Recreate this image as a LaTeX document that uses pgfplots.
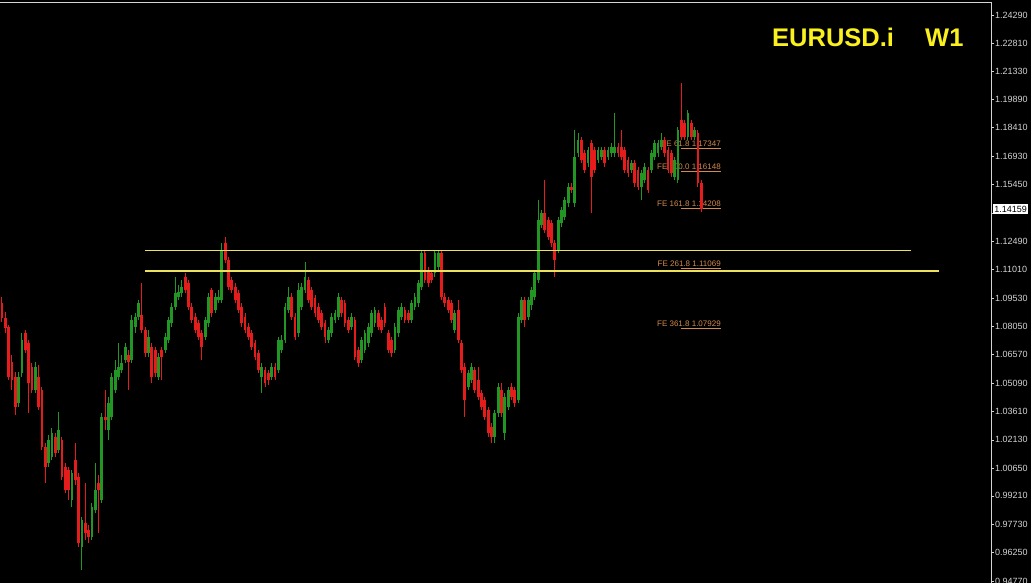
\documentclass[border=0pt]{standalone}
\usepackage{fontspec}
\setmainfont{Liberation Sans}
\usepackage{pgfplots}
\usepackage{pgfplotstable}
\pgfplotsset{compat=1.18}

\definecolor{bull}{RGB}{34,150,34}
\definecolor{bear}{RGB}{228,28,28}
\definecolor{lvl}{RGB}{236,226,90}
\definecolor{fe}{RGB}{210,138,78}
\definecolor{scalecol}{RGB}{212,212,212}
\definecolor{titlecol}{RGB}{250,240,30}

% weekly EURUSD bars: index, open, high, low, close
\pgfplotstableread{
i o h l c
1 1.0926 1.0958 1.0828 1.0848
2 1.0848 1.0880 1.0770 1.0796
3 1.0801 1.0812 1.0525 1.0540
4 1.0619 1.0656 1.0473 1.0525
5 1.0540 1.0567 1.0343 1.0384
6 1.0405 1.0567 1.0384 1.0540
7 1.0561 1.0770 1.0540 1.0734
8 1.0770 1.0786 1.0666 1.0682
9 1.0718 1.0734 1.0353 1.0509
10 1.0592 1.0613 1.0457 1.0473
11 1.0473 1.0619 1.0457 1.0592
12 1.0540 1.0603 1.0369 1.0384
13 1.0473 1.0488 1.0160 1.0175
14 1.0175 1.0196 0.9988 1.0071
15 1.0092 1.0238 1.0071 1.0212
16 1.0123 1.0274 1.0108 1.0248
17 1.0227 1.0248 1.0123 1.0144
18 1.0160 1.0359 1.0144 1.0264
19 1.0212 1.0227 1.0004 1.0019
20 1.0071 1.0092 0.9935 0.9951
21 1.0056 1.0071 0.9899 0.9951
22 0.9899 1.0056 0.9862 1.0040
23 1.0108 1.0196 0.9978 1.0004
24 1.0019 1.0040 0.9654 0.9675
25 0.9654 0.9810 0.9534 0.9795
26 0.9779 0.9988 0.9691 0.9727
27 0.9743 0.9769 0.9675 0.9706
28 0.9706 0.9883 0.9691 0.9862
29 0.9847 1.0092 0.9831 0.9951
30 0.9988 1.0030 0.9727 0.9951
31 0.9899 1.0353 0.9883 1.0332
32 1.0332 1.0473 1.0264 1.0316
33 1.0264 1.0436 1.0212 1.0405
34 1.0332 1.0561 1.0316 1.0540
35 1.0473 1.0629 1.0457 1.0577
36 1.0540 1.0718 1.0525 1.0592
37 1.0577 1.0656 1.0561 1.0613
38 1.0629 1.0718 1.0613 1.0697
39 1.0656 1.0682 1.0473 1.0619
40 1.0629 1.0864 1.0613 1.0838
41 1.0801 1.0874 1.0770 1.0853
42 1.0853 1.0942 1.0838 1.0926
43 1.0864 1.1031 1.0770 1.0786
44 1.0786 1.0801 1.0645 1.0666
45 1.0666 1.0786 1.0645 1.0749
46 1.0697 1.0718 1.0509 1.0540
47 1.0682 1.0697 1.0540 1.0561
48 1.0540 1.0666 1.0525 1.0645
49 1.0682 1.0697 1.0525 1.0645
50 1.0682 1.0770 1.0666 1.0749
51 1.0734 1.0853 1.0718 1.0838
52 1.0822 1.0926 1.0801 1.0905
53 1.0905 1.1062 1.0890 1.0979
54 1.0958 1.1021 1.0942 1.0985
55 1.0979 1.1047 1.0958 1.1010
56 1.1062 1.1083 1.0979 1.0995
57 1.1031 1.1047 1.0890 1.0905
58 1.0905 1.0926 1.0822 1.0838
59 1.0853 1.0874 1.0770 1.0786
60 1.0822 1.0838 1.0734 1.0749
61 1.0770 1.0786 1.0629 1.0697
62 1.0749 1.0853 1.0734 1.0838
63 1.0822 1.0979 1.0801 1.0958
64 1.0995 1.1005 1.0853 1.0874
65 1.0890 1.0979 1.0874 1.0958
66 1.0942 1.0995 1.0926 1.0958
67 1.0942 1.1239 1.0926 1.1203
68 1.1239 1.1270 1.1135 1.1151
69 1.1151 1.1166 1.0995 1.1010
70 1.1047 1.1062 1.0979 1.0995
71 1.1010 1.1031 1.0926 1.0942
72 1.0979 1.0995 1.0874 1.0890
73 1.0905 1.0926 1.0801 1.0822
74 1.0853 1.0874 1.0770 1.0786
75 1.0801 1.0822 1.0734 1.0749
76 1.0770 1.0786 1.0682 1.0697
77 1.0718 1.0734 1.0629 1.0645
78 1.0666 1.0682 1.0561 1.0577
79 1.0540 1.0613 1.0457 1.0592
80 1.0577 1.0592 1.0488 1.0509
81 1.0561 1.0577 1.0499 1.0525
82 1.0540 1.0613 1.0525 1.0592
83 1.0592 1.0613 1.0525 1.0540
84 1.0577 1.0749 1.0561 1.0734
85 1.0682 1.0760 1.0666 1.0734
86 1.0734 1.0926 1.0718 1.0905
87 1.0890 1.1010 1.0874 1.0958
88 1.0958 1.0979 1.0838 1.0853
89 1.0853 1.0874 1.0734 1.0749
90 1.0770 1.1031 1.0749 1.0995
91 1.0905 1.1031 1.0890 1.1010
92 1.0995 1.1141 1.0979 1.1062
93 1.1047 1.1062 1.0926 1.0942
94 1.0995 1.1010 1.0890 1.0905
95 1.0953 1.0969 1.0853 1.0874
96 1.0905 1.0926 1.0822 1.0838
97 1.0874 1.0890 1.0786 1.0801
98 1.0822 1.0838 1.0718 1.0749
99 1.0734 1.0801 1.0718 1.0786
100 1.0770 1.0874 1.0749 1.0853
101 1.0838 1.0890 1.0822 1.0874
102 1.0853 1.0979 1.0838 1.0958
103 1.0942 1.0958 1.0853 1.0874
104 1.0926 1.0942 1.0801 1.0822
105 1.0838 1.0853 1.0770 1.0786
106 1.0801 1.0874 1.0786 1.0853
107 1.0838 1.0853 1.0629 1.0645
108 1.0682 1.0697 1.0592 1.0613
109 1.0629 1.0749 1.0613 1.0734
110 1.0682 1.0786 1.0666 1.0770
111 1.0718 1.0822 1.0697 1.0801
112 1.0770 1.0890 1.0749 1.0874
113 1.0822 1.0905 1.0801 1.0890
114 1.0874 1.0890 1.0786 1.0801
115 1.0838 1.0853 1.0770 1.0786
116 1.0905 1.0926 1.0801 1.0822
117 1.0770 1.0786 1.0666 1.0682
118 1.0734 1.0749 1.0645 1.0666
119 1.0682 1.0822 1.0666 1.0801
120 1.0770 1.0905 1.0749 1.0890
121 1.0853 1.0926 1.0838 1.0905
122 1.0890 1.0905 1.0822 1.0838
123 1.0874 1.0890 1.0822 1.0838
124 1.0838 1.0942 1.0822 1.0926
125 1.0905 1.0979 1.0890 1.0958
126 1.0926 1.1047 1.0905 1.1031
127 1.1010 1.1203 1.0995 1.1187
128 1.1187 1.1203 1.1031 1.1047
129 1.1099 1.1114 1.1010 1.1031
130 1.1083 1.1099 1.1031 1.1047
131 1.1083 1.1203 1.1062 1.1187
132 1.1114 1.1203 1.1099 1.1187
133 1.1187 1.1203 1.0942 1.0958
134 1.0958 1.0979 1.0905 1.0926
135 1.0942 1.0958 1.0874 1.0890
136 1.0926 1.0942 1.0822 1.0838
137 1.0786 1.0890 1.0770 1.0874
138 1.0890 1.0942 1.0718 1.0734
139 1.0718 1.0734 1.0561 1.0577
140 1.0592 1.0613 1.0332 1.0421
141 1.0488 1.0577 1.0473 1.0561
142 1.0525 1.0613 1.0509 1.0592
143 1.0577 1.0592 1.0457 1.0473
144 1.0525 1.0592 1.0421 1.0436
145 1.0457 1.0473 1.0369 1.0384
146 1.0421 1.0436 1.0316 1.0332
147 1.0369 1.0384 1.0227 1.0248
148 1.0279 1.0300 1.0196 1.0227
149 1.0227 1.0369 1.0196 1.0353
150 1.0353 1.0509 1.0332 1.0488
151 1.0473 1.0509 1.0332 1.0353
152 1.0248 1.0457 1.0212 1.0436
153 1.0384 1.0488 1.0369 1.0473
154 1.0488 1.0509 1.0421 1.0436
155 1.0473 1.0488 1.0384 1.0405
156 1.0421 1.0874 1.0405 1.0853
157 1.0838 1.0958 1.0822 1.0942
158 1.0942 1.0958 1.0801 1.0838
159 1.0853 1.0958 1.0838 1.0942
160 1.0916 1.1010 1.0890 1.0995
161 1.0958 1.1099 1.0942 1.1083
162 1.1047 1.1464 1.1031 1.1360
163 1.1334 1.1412 1.1318 1.1396
164 1.1396 1.1568 1.1291 1.1307
165 1.1360 1.1375 1.1255 1.1270
166 1.1344 1.1360 1.1218 1.1239
167 1.1239 1.1255 1.1062 1.1151
168 1.1203 1.1375 1.1187 1.1360
169 1.1344 1.1427 1.1323 1.1412
170 1.1375 1.1479 1.1360 1.1464
171 1.1448 1.1552 1.1427 1.1531
172 1.1531 1.1552 1.1500 1.1516
173 1.1448 1.1829 1.1427 1.1688
174 1.1709 1.1813 1.1688 1.1777
175 1.1777 1.1792 1.1657 1.1673
176 1.1709 1.1725 1.1604 1.1620
177 1.1657 1.1740 1.1636 1.1725
178 1.1761 1.1777 1.1396 1.1583
179 1.1725 1.1740 1.1604 1.1620
180 1.1673 1.1740 1.1657 1.1725
181 1.1688 1.1740 1.1673 1.1725
182 1.1725 1.1740 1.1636 1.1657
183 1.1688 1.1740 1.1673 1.1725
184 1.1709 1.1761 1.1688 1.1740
185 1.1709 1.1917 1.1688 1.1740
186 1.1740 1.1761 1.1688 1.1709
187 1.1740 1.1829 1.1673 1.1688
188 1.1725 1.1740 1.1604 1.1620
189 1.1673 1.1688 1.1583 1.1604
190 1.1620 1.1673 1.1604 1.1657
191 1.1657 1.1673 1.1531 1.1552
192 1.1620 1.1636 1.1516 1.1531
193 1.1531 1.1620 1.1464 1.1604
194 1.1568 1.1657 1.1552 1.1636
195 1.1620 1.1636 1.1500 1.1516
196 1.1620 1.1725 1.1604 1.1709
197 1.1688 1.1777 1.1673 1.1761
198 1.1709 1.1777 1.1688 1.1761
199 1.1740 1.1813 1.1725 1.1777
200 1.1777 1.1792 1.1688 1.1709
201 1.1725 1.1740 1.1604 1.1620
202 1.1709 1.1725 1.1583 1.1604
203 1.1583 1.1688 1.1568 1.1673
204 1.1568 1.1844 1.1552 1.1829
205 1.1881 1.2074 1.1777 1.1792
206 1.1865 1.1881 1.1777 1.1792
207 1.1792 1.1933 1.1777 1.1917
208 1.1865 1.1881 1.1777 1.1792
209 1.1792 1.1844 1.1777 1.1829
210 1.1813 1.1829 1.1531 1.1552
211 1.1552 1.1568 1.1402 1.1416
}\candles

\pgfplotsset{
  candle part/.style n args={2}{
    only marks, mark=*, mark size=0pt,
    mark options={draw=none, fill=none}, forget plot,
    error bars/.cd, y dir=plus, y explicit, error mark=none,
    error bar style={#1, line width=#2}},
}

\begin{document}
\begin{tikzpicture}
\fill[black] (0,0) rectangle (1031pt,583pt);
\begin{axis}[
  at={(0pt,0pt)}, anchor=south west,
  width=991pt, height=581pt, scale only axis,
  xmin=0.4, xmax=298, ymin=0.94663, ymax=1.24968,
  axis x line*=top, axis y line*=right,
  axis line style={draw=scalecol, line width=0.8pt, -},
  xtick=\empty,
  ytick={0.94770,0.96250,0.97730,0.99210,1.00650,1.02130,1.03610,1.05090,1.06570,1.08050,1.09530,1.11010,1.12490,1.13970,1.15450,1.16930,1.18410,1.19890,1.21330,1.22810,1.24290},
  yticklabels={0.94770,0.96250,0.97730,0.99210,1.00650,1.02130,1.03610,1.05090,1.06570,1.08050,1.09530,1.11010,1.12490,,1.15450,1.16930,1.18410,1.19890,1.21330,1.22810,1.24290},
  tick align=outside, major tick length=3pt,
  tick style={draw=scalecol, line width=0.6pt},
  yticklabel style={font=\fontsize{9}{10}\selectfont, text=scalecol, inner sep=0pt, xshift=1pt},
]
% Fibonacci expansion levels
\addplot[fe, line width=0.9pt, forget plot] coordinates {(204.9,1.17347) (216.9,1.17347)};
\addplot[fe, line width=0.9pt, forget plot] coordinates {(204.9,1.16148) (216.9,1.16148)};
\addplot[fe, line width=0.9pt, forget plot] coordinates {(204.9,1.14208) (216.9,1.14208)};
\addplot[fe, line width=0.9pt, forget plot] coordinates {(204.9,1.11069) (216.9,1.11069)};
\addplot[fe, line width=0.9pt, forget plot] coordinates {(204.9,1.07929) (216.9,1.07929)};
\begin{scope}[every node/.style={anchor=south east, text=fe, font=\fontsize{8}{9}\selectfont, inner sep=0pt, yshift=1.5pt}]
\node at (axis cs:216.9,1.17347) {FE 61.8 1.17347};
\node at (axis cs:216.9,1.16148) {FE 100.0 1.16148};
\node at (axis cs:216.9,1.14208) {FE 161.8 1.14208};
\node at (axis cs:216.9,1.11069) {FE 261.8 1.11069};
\node at (axis cs:216.9,1.07929) {FE 361.8 1.07929};
\end{scope}
% wicks
\addplot[candle part={bull}{1pt}]
  table[x expr={(\thisrow{c}>=\thisrow{o}) ? \thisrow{i} : -50}, y=l, y error expr={\thisrow{h}-\thisrow{l}}] {\candles};
\addplot[candle part={bear}{1pt}]
  table[x expr={(\thisrow{c}<\thisrow{o}) ? \thisrow{i} : -50}, y=l, y error expr={\thisrow{h}-\thisrow{l}}] {\candles};
% bodies
\addplot[candle part={bull}{2.8pt}]
  table[x expr={(\thisrow{c}>=\thisrow{o}) ? \thisrow{i} : -50}, y=o, y error expr={\thisrow{c}-\thisrow{o}}] {\candles};
\addplot[candle part={bear}{2.8pt}]
  table[x expr={(\thisrow{c}<\thisrow{o}) ? \thisrow{i} : -50}, y=c, y error expr={\thisrow{o}-\thisrow{c}}] {\candles};
% horizontal resistance lines
\addplot[lvl, line width=1.8pt, forget plot] coordinates {(43.9,1.1201) (274.0,1.1201)};
\addplot[lvl, line width=1.8pt, forget plot] coordinates {(43.9,1.1094) (282.4,1.1094)};
\coordinate (cp) at (axis cs:298,1.14159);
\end{axis}
\node[anchor=west, fill=white, text=black, font=\fontsize{9}{10}\selectfont, inner sep=1.6pt, xshift=1.5pt] at (cp) {1.14159};
\node[anchor=base west, text=titlecol, font=\fontsize{25.5}{30}\selectfont\bfseries, inner sep=0pt] at (772pt,536.3pt) {EURUSD.i};
\node[anchor=base west, text=titlecol, font=\fontsize{25.5}{30}\selectfont\bfseries, inner sep=0pt] at (925pt,536.3pt) {W1};
\pgfresetboundingbox
\path[use as bounding box] (0,0) rectangle (1031pt,583pt);
\end{tikzpicture}
\end{document}
